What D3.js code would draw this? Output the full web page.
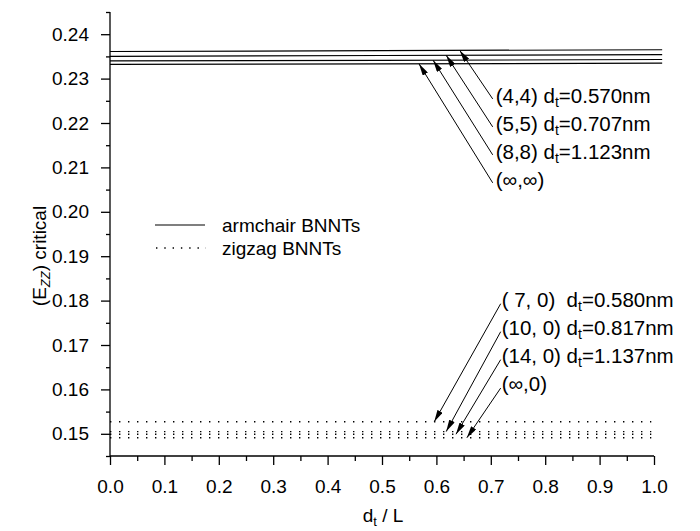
<!DOCTYPE html>
<html><head><meta charset="utf-8">
<script src="https://cdn.jsdelivr.net/npm/d3@7"></script>
<style>
body{margin:0;background:#fff;}
text{font-family:"Liberation Sans",Arial,Helvetica,sans-serif;fill:#000;white-space:pre;}
</style></head>
<body><svg id="c" width="700" height="531"></svg>
<script>
// ---- data ----
const armchairNames = ["(4,4)", "(5,5)", "(8,8)", "(∞,∞)"];
const armchairDt = ["0.570nm", "0.707nm", "1.123nm", null];
const armchairX = [0, 0.5, 1.015];
const armchairY = [
  [0.2361, 0.2363, 0.2365],
  [0.2350, 0.2352, 0.2354],
  [0.2340, 0.2341, 0.2343],
  [0.2332, 0.2333, 0.2335]
];
const zigzagNames = ["( 7, 0) ", "(10, 0)", "(14, 0)", "(∞,0)"];
const zigzagDt = ["0.580nm", "0.817nm", "1.137nm", null];
const zigzagX = [0, 0.995];
const zigzagY = [
  [0.1527, 0.1527],
  [0.1505, 0.1505],
  [0.1499, 0.1499],
  [0.1491, 0.1491]
];
// arrow tips (x on the curve) and label anchors
const armTipX = [0.643, 0.618, 0.594, 0.568];
const armLabelX = 0.709;
const armLabelY = [0.2261, 0.2198, 0.2135, 0.2072];
const zigTipX = [0.596, 0.618, 0.636, 0.656];
const zigLabelX = 0.720;
const zigLabelY = [0.1802, 0.1739, 0.1676, 0.1612];
const xTicks = [0,0.1,0.2,0.3,0.4,0.5,0.6,0.7,0.8,0.9,1.0];
const yTicks = [0.15,0.16,0.17,0.18,0.19,0.20,0.21,0.22,0.23,0.24];

// ---- layout ----
const svg = d3.select("#c");
const x = d3.scaleLinear().domain([0,1]).range([110,654]);
const y = d3.scaleLinear().domain([0.145,0.245]).range([456,12]);
const FS = 19, AFS = 20.5, SFS = 13;

svg.append("defs").append("marker")
  .attr("id","ah").attr("viewBox","0 0 12 6").attr("refX",12).attr("refY",3)
  .attr("markerWidth",12).attr("markerHeight",6).attr("markerUnits","userSpaceOnUse")
  .attr("orient","auto")
  .append("path").attr("d","M0,0 L12,3 L0,6 Z").attr("fill","#000");

// axes
const xMinor = d3.range(0.05,1,0.1);
const yMinor = [0.145,0.155,0.165,0.175,0.185,0.195,0.205,0.215,0.225,0.235,0.245];
const gx = svg.append("g").attr("transform",`translate(0,${y(0.145)})`);
gx.call(d3.axisBottom(x).tickValues(xTicks).tickSize(9).tickPadding(15).tickFormat(d3.format(".1f")));
gx.append("g").call(d3.axisBottom(x).tickValues(xMinor).tickSize(5).tickFormat(""));
const gy = svg.append("g").attr("transform",`translate(${x(0)},0)`);
gy.call(d3.axisLeft(y).tickValues(yTicks).tickSize(9).tickPadding(12).tickFormat(d3.format(".2f")));
gy.append("g").call(d3.axisLeft(y).tickValues(yMinor).tickSize(4).tickFormat(""));
svg.selectAll(".domain").attr("stroke","#000").attr("stroke-width",1.3);
svg.selectAll(".tick line").attr("stroke","#000").attr("stroke-width",1.3);
svg.selectAll(".tick text").attr("font-size",FS).attr("font-family","Liberation Sans, Arial, sans-serif").attr("fill","#000");
gx.select(".domain").attr("d",`M${x(0)},0H${x(1)}`);
gy.select(".domain").attr("d",`M0,${y(0.245)}V${y(0.145)}`);
gy.selectAll("g g .domain").remove();
gx.selectAll("g g .domain").remove();

// lines
const line = d3.line();
armchairY.forEach(vals => {
  svg.append("path").attr("fill","none").attr("stroke","#000").attr("stroke-width",1.2)
    .attr("d", line(armchairX.map((xv,i)=>[x(xv), y(vals[i])])));
});
zigzagY.forEach(vals => {
  svg.append("path").attr("fill","none").attr("stroke","#000").attr("stroke-width",1.4)
    .attr("stroke-dasharray","1.4,7.6")
    .attr("d", line(zigzagX.map((xv,i)=>[x(xv), y(vals[i])])));
});

function interp(xs, ys, xv){
  for(let i=0;i<xs.length-1;i++){ if(xv>=xs[i] && xv<=xs[i+1]){ const t=(xv-xs[i])/(xs[i+1]-xs[i]); return ys[i]+t*(ys[i+1]-ys[i]); } }
  return ys[ys.length-1];
}
function label(g, px, py, name, dt){
  const t = g.append("text").attr("x",px).attr("y",py).attr("font-size",AFS);
  t.append("tspan").text(name + (dt? " d":""));
  if(dt){
    t.append("tspan").attr("dy",4).attr("font-size",SFS+1).text("t");
    t.append("tspan").attr("dy",-4).text("=" + dt);
  }
}
const ann = svg.append("g");
armchairNames.forEach((n,i)=>{
  const lx = x(armLabelX), ly = y(armLabelY[i]);
  const tx = x(armTipX[i]), ty = y(interp(armchairX, armchairY[i], armTipX[i]));
  ann.append("line").attr("x1",lx-3).attr("y1",ly+3).attr("x2",tx).attr("y2",ty)
    .attr("stroke","#000").attr("stroke-width",1).attr("marker-end","url(#ah)");
  label(ann, lx, ly+7, n, armchairDt[i]);
});
zigzagNames.forEach((n,i)=>{
  const lx = x(zigLabelX), ly = y(zigLabelY[i]);
  const tx = x(zigTipX[i]), ty = y(interp(zigzagX, zigzagY[i], zigTipX[i]));
  ann.append("line").attr("x1",lx-1).attr("y1",ly+4).attr("x2",tx).attr("y2",ty)
    .attr("stroke","#000").attr("stroke-width",1).attr("marker-end","url(#ah)");
  label(ann, lx, ly+7, n, zigzagDt[i]);
});

// legend
const lg = svg.append("g");
lg.append("line").attr("x1",155).attr("x2",205).attr("y1",225).attr("y2",225).attr("stroke","#000").attr("stroke-width",1.2);
lg.append("text").attr("x",222).attr("y",232).attr("font-size",FS).text("armchair BNNTs");
lg.append("line").attr("x1",156).attr("x2",206).attr("y1",248).attr("y2",248).attr("stroke","#000").attr("stroke-width",1.4).attr("stroke-dasharray","1.4,6.9");
lg.append("text").attr("x",222).attr("y",255).attr("font-size",FS).text("zigzag BNNTs");

// axis titles
const xt = svg.append("text").attr("x",383).attr("y",522).attr("text-anchor","middle").attr("font-size",FS);
xt.append("tspan").text("d");
xt.append("tspan").attr("dy",4).attr("font-size",SFS).text("t");
xt.append("tspan").attr("dy",-4).text(" / L");
const yt = svg.append("text").attr("transform","translate(46,256) rotate(-90)").attr("text-anchor","middle").attr("font-size",FS);
yt.append("tspan").text("(E");
yt.append("tspan").attr("dy",4).attr("font-size",SFS).attr("font-style","italic").text("ZZ");
yt.append("tspan").attr("dy",-4).text(") critical");
</script></body></html>
